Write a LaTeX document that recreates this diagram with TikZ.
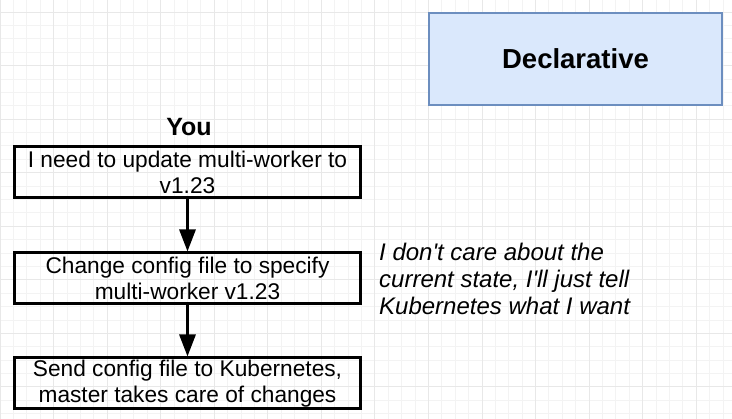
\documentclass[tikz,border=0pt]{standalone}
\usepackage{fontspec}
\setmainfont{Liberation Sans}
\usetikzlibrary{arrows.meta}
\usetikzlibrary{positioning}

\definecolor{declfill}{HTML}{DAE8FC}
\definecolor{decldraw}{HTML}{6C8EBF}
\definecolor{gridminor}{HTML}{F3F3F3}
\definecolor{gridmajor}{HTML}{E8E8E8}

\begin{document}
\begin{tikzpicture}[x=1pt,y=-1pt,
        stepbox/.style={draw=black, line width=3pt, minimum width=346pt, minimum height=51pt,
            inner sep=0pt, align=center, font=\fontsize{22.7}{26.5}\selectfont},
        flow/.style={line width=3pt, -{Triangle[width=16pt,length=22pt]}},
        node distance=52pt]
        \useasboundingbox (0,0) rectangle (732,419);
        \fill[white] (0,0) rectangle (732,419);

        % background grid
        \foreach \i in {0,...,54}
            \draw[gridminor, line width=0.8pt] (\i*13.3875,0) -- (\i*13.3875,419);
        \foreach \i in {0,...,30}
            \draw[gridminor, line width=0.8pt] (0,12+\i*13.3875) -- (732,12+\i*13.3875);
        \foreach \i in {0,...,13}
            \draw[gridmajor, line width=0.8pt] (\i*53.55,0) -- (\i*53.55,419);
        \foreach \i in {0,...,7}
            \draw[gridmajor, line width=0.8pt] (0,12+\i*53.55) -- (732,12+\i*53.55);

        \node[draw=decldraw, fill=declfill, line width=2pt, minimum width=293pt, minimum height=92pt,
            font=\bfseries\fontsize{27.5}{30}\selectfont] (decl) at (575.5,59) {Declarative};

        \node[stepbox] (update) at (187.5,172.5) {I need to update multi-worker to\\v1.23};
        \node[stepbox, below=of update] (change) {Change config file to specify\\multi-worker v1.23};
        \node[stepbox, below=51pt of change] (send) {Send config file to Kubernetes,\\master takes care of changes};
        \node[above=10pt of update, xshift=1.5pt, inner sep=0pt, font=\bfseries\fontsize{25}{29}\selectfont] (you) {You};

        \draw[flow] (update) -- (change);
        \draw[flow] (change) -- (send);

        \node[anchor=north west, inner sep=0pt, align=left, font=\itshape\fontsize{24}{27}\selectfont] (note) at (379,243)
            {I don\textquotesingle t care about the\\current state, I\textquotesingle ll just tell\\Kubernetes what I want};
\end{tikzpicture}
\end{document}
